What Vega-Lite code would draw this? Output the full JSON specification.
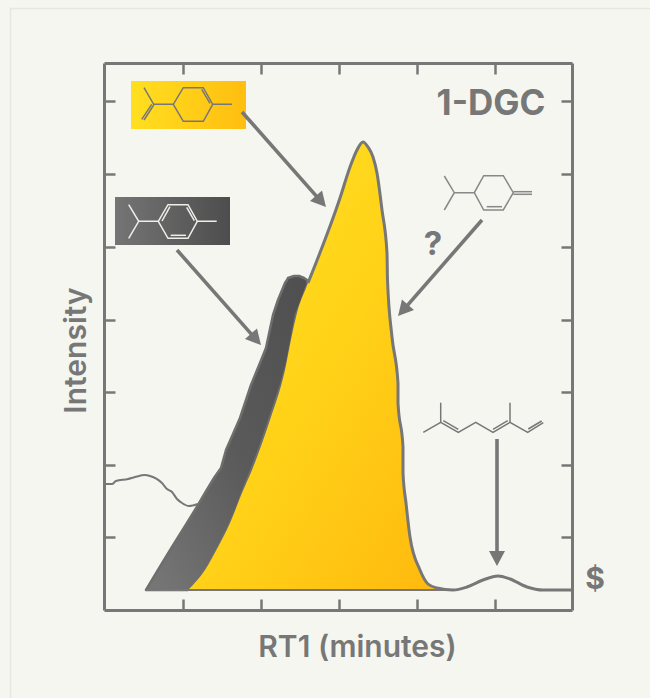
{
"$schema":"https://vega.github.io/schema/vega-lite/v6.json",
"width":468,"height":547,
"autosize":"none",
"padding":{"left":104,"top":63,"right":78,"bottom":88},
"background":"#f5f6ef",
"config":{"view":{"stroke":null},
"axis":{"domainColor":"#777777","domainWidth":3,"tickColor":"#777777","tickWidth":2.5,"tickSize":-11,"labels":false,"grid":false,"titleColor":"#777777","titleFont":"Inter","titleFontWeight":600,"titleFontSize":30}},
"datasets":{
"thin":[{"x":1,"y":126},{"x":8,"y":126},{"x":12,"y":129},{"x":24,"y":131},{"x":31,"y":133},{"x":41,"y":135},{"x":46,"y":134},{"x":58,"y":127},{"x":63,"y":121},{"x":68,"y":118},{"x":73,"y":111},{"x":78,"y":107},{"x":85,"y":104},{"x":94,"y":106}],
"grey":[{"y":20,"xl":42,"xr":84},{"y":40,"xl":54,"xr":101},{"y":63,"xl":68,"xr":114},{"y":87,"xl":83,"xr":126},{"y":105,"xl":94,"xr":134},{"y":117,"xl":101,"xr":138},{"y":132,"xl":110,"xr":144},{"y":142,"xl":117,"xr":148},{"y":160,"xl":122,"xr":155},{"y":192,"xl":136,"xr":166},{"y":225,"xl":147,"xr":177},{"y":247,"xl":156,"xr":183},{"y":262,"xl":162,"xr":186},{"y":295,"xl":169,"xr":192},{"y":310,"xl":174,"xr":198},{"y":327,"xl":181,"xr":204},{"y":330,"xl":183,"xr":203},{"y":332,"xl":184,"xr":200},{"y":334,"xl":190,"xr":195}],
"peak":[{"x":84,"y":20},{"x":101,"y":40},{"x":114,"y":63},{"x":126,"y":87},{"x":138,"y":117},{"x":148,"y":140},{"x":166,"y":190},{"x":181,"y":240},{"x":189,"y":280},{"x":193,"y":297},{"x":204,"y":327},{"x":236,"y":412},{"x":246,"y":443},{"x":253,"y":460},{"x":259,"y":468},{"x":264,"y":463},{"x":269,"y":453},{"x":273,"y":437},{"x":278,"y":400},{"x":283,"y":357},{"x":283.5,"y":330},{"x":288,"y":273},{"x":294,"y":227},{"x":294,"y":207},{"x":299,"y":163},{"x":299,"y":137},{"x":302,"y":107},{"x":306,"y":73},{"x":316,"y":40},{"x":324,"y":26},{"x":333,"y":22},{"x":349,"y":20}],
"curve":[{"x":204,"y":327},{"x":236,"y":412},{"x":246,"y":443},{"x":253,"y":460},{"x":259,"y":468},{"x":264,"y":463},{"x":269,"y":453},{"x":273,"y":437},{"x":278,"y":400},{"x":283,"y":357},{"x":283.5,"y":330},{"x":288,"y":273},{"x":294,"y":227},{"x":294,"y":207},{"x":299,"y":163},{"x":299,"y":137},{"x":302,"y":107},{"x":306,"y":73},{"x":316,"y":40},{"x":324,"y":26},{"x":333,"y":22},{"x":349,"y":20},{"x":363,"y":23},{"x":379,"y":30},{"x":394,"y":34},{"x":406,"y":31},{"x":423,"y":23},{"x":439,"y":20},{"x":468,"y":20}],
"base":[{"x":42,"y":20},{"x":349,"y":20}],
"arrows":[{"a":"1","x":138,"y":498},{"a":"1","x":217,"y":408.6},{"a":"2","x":73,"y":360},{"a":"2","x":152,"y":270.6},{"a":"3","x":378,"y":390},{"a":"3","x":299,"y":299.6},{"a":"4","x":393,"y":171},{"a":"4","x":393,"y":51.5}],
"heads":[{"x":217,"y":408.6,"bearing":138.5},{"x":152,"y":270.6,"bearing":138.5},{"x":299,"y":299.6,"bearing":221.2},{"x":393,"y":51.5,"bearing":180}],
"molA":[
{"b":"a","x":40,"y":522.3},{"b":"a","x":49.7,"y":505.7},{"b":"a","x":69.3,"y":505.7},{"b":"a","x":79.3,"y":522.3},{"b":"a","x":99.3,"y":522.3},{"b":"a","x":108.7,"y":505.7},{"b":"a","x":128,"y":505.7},
{"b":"b","x":69.3,"y":505.7},{"b":"b","x":79.3,"y":488.7},{"b":"b","x":99.3,"y":488.7},{"b":"b","x":108.7,"y":505.7},
{"b":"c","x":47.7,"y":505.7},{"b":"c","x":37.7,"y":490.7},
{"b":"d","x":49.7,"y":505},{"b":"d","x":40,"y":490},
{"b":"e","x":97.7,"y":520.7},{"b":"e","x":106,"y":506.7}],
"molB":[
{"b":"a","x":24.7,"y":405.3},{"b":"a","x":34.7,"y":388.7},{"b":"a","x":24.7,"y":371.7},
{"b":"b","x":34.7,"y":388.7},{"b":"b","x":54.3,"y":388.7},{"b":"b","x":64,"y":405.3},{"b":"b","x":84,"y":405.3},{"b":"b","x":93.3,"y":388.7},{"b":"b","x":112.7,"y":388.7},
{"b":"c","x":54.3,"y":388.7},{"b":"c","x":64,"y":371.7},{"b":"c","x":84,"y":371.7},{"b":"c","x":93.3,"y":388.7},
{"b":"d","x":58,"y":389},{"b":"d","x":66,"y":403.3},
{"b":"e","x":82.7,"y":402.7},{"b":"e","x":90.3,"y":389.3},
{"b":"f","x":66.7,"y":374.7},{"b":"f","x":82,"y":374.7}],
"molC":[
{"b":"a","x":340.3,"y":434},{"b":"a","x":350.3,"y":417.3},{"b":"a","x":340.3,"y":400},
{"b":"b","x":350.3,"y":417.3},{"b":"b","x":370.3,"y":417.3},{"b":"b","x":379.7,"y":434.3},{"b":"b","x":399.3,"y":434.3},{"b":"b","x":409.3,"y":417.3},{"b":"b","x":399.3,"y":400},{"b":"b","x":379.7,"y":400},{"b":"b","x":370.3,"y":417.3},
{"b":"c","x":382.7,"y":403.3},{"b":"c","x":398,"y":403.3},
{"b":"d","x":409.3,"y":418.3},{"b":"d","x":428,"y":418.3},
{"b":"e","x":409.3,"y":415.7},{"b":"e","x":428,"y":415.7}],
"molD":[
{"b":"a","x":319.3,"y":177.7},{"b":"a","x":336.7,"y":187.7},{"b":"a","x":354.3,"y":177.7},{"b":"a","x":371.7,"y":187.7},{"b":"a","x":389,"y":177.7},{"b":"a","x":406,"y":187.7},{"b":"a","x":423.7,"y":177.7},{"b":"a","x":439.3,"y":187.3},
{"b":"b","x":336.7,"y":207.3},{"b":"b","x":336.7,"y":187.7},
{"b":"c","x":406,"y":207.3},{"b":"c","x":406,"y":187.7},
{"b":"d","x":339.3,"y":189.3},{"b":"d","x":354.3,"y":180.7},
{"b":"e","x":389,"y":180.7},{"b":"e","x":403.7,"y":189.3},
{"b":"f","x":424.3,"y":181},{"b":"f","x":437.7,"y":189}]
},
"encoding":{
"x":{"field":"x","type":"quantitative","scale":{"domain":[0,468],"nice":false,"zero":false},"axis":null},
"y":{"field":"y","type":"quantitative","scale":{"domain":[0,547],"nice":false,"zero":false},"axis":null}
},
"resolve":{"axis":{"x":"independent","y":"independent"}},
"layer":[
{"data":{"values":[{"x":-93.5,"x2":560,"y":601.5,"y2":-100}]},
 "mark":{"type":"rect","fill":null,"stroke":"#e6e7e0","strokeWidth":1.5},
 "encoding":{
  "x":{"field":"x","type":"quantitative","scale":{"domain":[0,468],"nice":false,"zero":false},"axis":{"orient":"bottom","title":"RT1 (minutes)","values":[79,157,235,313,391],"titleX":253,"titleY":46,"titleBaseline":"alphabetic","titleAlign":"center","titleAnchor":null}},
  "x2":{"field":"x2"},
  "y":{"field":"y","type":"quantitative","scale":{"domain":[0,547],"nice":false,"zero":false},"axis":{"orient":"left","title":"Intensity","values":[73,145,218,290,363,436,509],"titleX":-19,"titleY":287,"titleBaseline":"alphabetic","titleAlign":"center","titleAnchor":null}},
  "y2":{"field":"y2"}}},
{"data":{"values":[{"x":27,"x2":142,"y":529,"y2":481}]},
 "mark":{"type":"rect","fill":{"x1":0,"y1":0,"x2":1,"y2":0,"gradient":"linear","stops":[{"offset":0,"color":"#ffdf20"},{"offset":1,"color":"#ffbe10"}]}},
 "encoding":{"x2":{"field":"x2"},"y2":{"field":"y2"}}},
{"data":{"values":[{"x":11,"x2":126,"y":413,"y2":365}]},
 "mark":{"type":"rect","fill":{"x1":0,"y1":0,"x2":1,"y2":0,"gradient":"linear","stops":[{"offset":0,"color":"#757575"},{"offset":1,"color":"#4d4d4d"}]}},
 "encoding":{"x2":{"field":"x2"},"y2":{"field":"y2"}}},
{"data":{"name":"thin"},"mark":{"type":"line","stroke":"#777777","strokeWidth":2,"interpolate":"monotone"},"encoding":{"order":{"value":null}}},
{"data":{"name":"grey"},"mark":{"type":"area","orient":"horizontal","stroke":"#6e6e6e","strokeWidth":2.5,"strokeJoin":"round","interpolate":"linear","fill":{"x1":0,"y1":1,"x2":1,"y2":0,"gradient":"linear","stops":[{"offset":0,"color":"#787878"},{"offset":0.5,"color":"#5a5a5a"},{"offset":1,"color":"#4f4f4f"}]}},
 "encoding":{"x":{"field":"xl","type":"quantitative","scale":{"domain":[0,468],"nice":false,"zero":false},"axis":null},"x2":{"field":"xr"}}},
{"data":{"name":"peak"},"mark":{"type":"area","interpolate":"monotone","fill":{"x1":0,"y1":0,"x2":1,"y2":1,"gradient":"linear","stops":[{"offset":0,"color":"#ffe324"},{"offset":0.5,"color":"#ffd218"},{"offset":1,"color":"#ffb80d"}]}},
 "encoding":{"y2":{"datum":20}}},
{"data":{"name":"base"},"mark":{"type":"line","stroke":"#777777","strokeWidth":1.8},"encoding":{}},
{"data":{"name":"curve"},"mark":{"type":"line","stroke":"#777777","strokeWidth":3,"interpolate":"monotone"},"encoding":{"order":{"value":null}}},
{"data":{"name":"arrows"},"mark":{"type":"line","stroke":"#777777","strokeWidth":3.6},"encoding":{"detail":{"field":"a"},"order":{"value":null}}},
{"data":{"name":"heads"},"mark":{"type":"point","filled":true,"fill":"#777777","opacity":1,"size":1024,"shape":"M0,-0.47L0.5,0.47L-0.5,0.47Z"},"encoding":{"angle":{"field":"bearing","type":"quantitative","scale":null}}},
{"data":{"name":"molA"},"mark":{"type":"line","stroke":"#777777","strokeWidth":1.5},"encoding":{"detail":{"field":"b"},"order":{"value":null}}},
{"data":{"name":"molB"},"mark":{"type":"line","stroke":"#eeeeea","strokeWidth":1.5},"encoding":{"detail":{"field":"b"},"order":{"value":null}}},
{"data":{"name":"molC"},"mark":{"type":"line","stroke":"#888888","strokeWidth":1.5},"encoding":{"detail":{"field":"b"},"order":{"value":null}}},
{"data":{"name":"molD"},"mark":{"type":"line","stroke":"#777777","strokeWidth":1.5},"encoding":{"detail":{"field":"b"},"order":{"value":null}}},
{"data":{"values":[{"x":387,"y":506,"label":"1-DGC","size":35},{"x":329,"y":365,"label":"?","size":33},{"x":491,"y":30,"label":"$","size":30}]},
 "mark":{"type":"text","font":"Inter","fontWeight":700,"color":"#777777","align":"center","baseline":"middle"},
 "encoding":{
  "x":{"field":"x","type":"quantitative","scale":{"domain":[0,468],"nice":false,"zero":false},"axis":{"orient":"top","title":null,"values":[79,157,235,313,391]}},
  "y":{"field":"y","type":"quantitative","scale":{"domain":[0,547],"nice":false,"zero":false},"axis":{"orient":"right","title":null,"values":[73,145,218,290,363,436,509]}},
  "text":{"field":"label"},
  "size":{"field":"size","type":"quantitative","scale":null}}}
]
}
